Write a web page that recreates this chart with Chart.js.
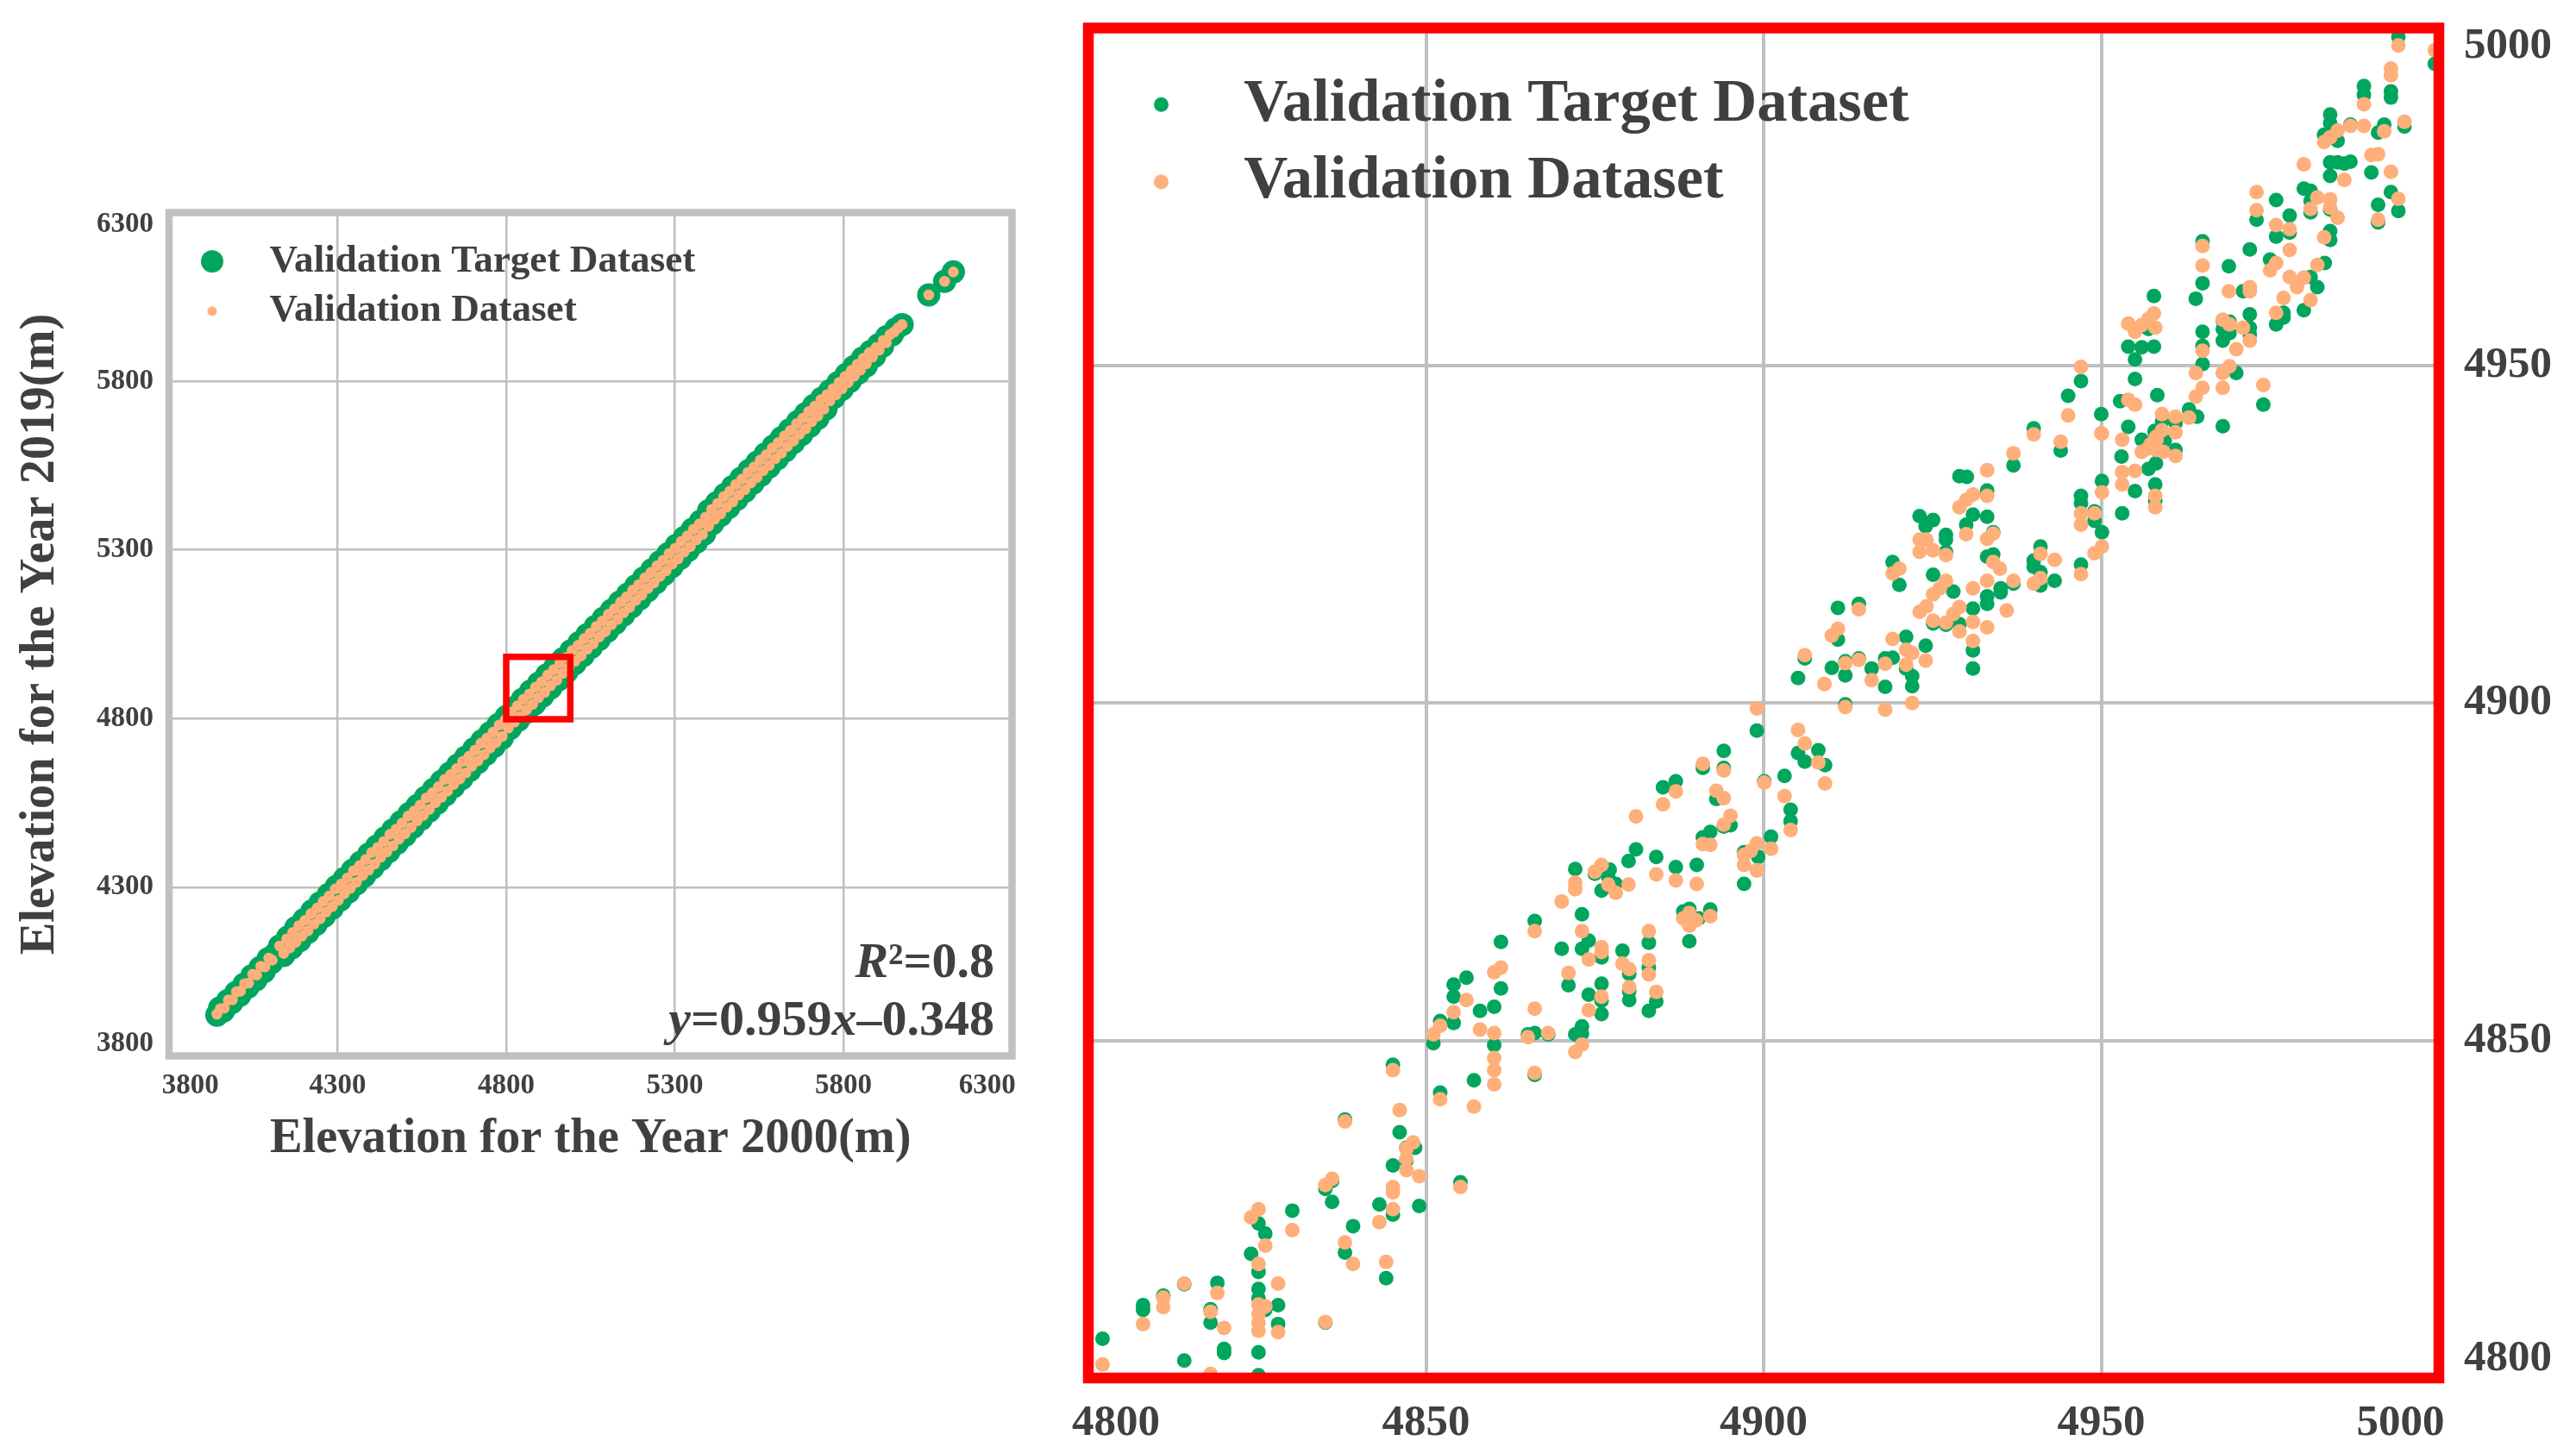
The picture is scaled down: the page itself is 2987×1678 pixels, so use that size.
<!DOCTYPE html>
<html>
<head>
<meta charset="utf-8">
<title>Elevation validation</title>
<script src="https://cdn.jsdelivr.net/npm/chart.js@4/dist/chart.umd.js"></script>
<style>
html,body{margin:0;padding:0;background:#fff;width:2987px;height:1678px;overflow:hidden}
canvas{position:absolute;top:0;display:block}
#full{left:0}
#zoom{left:1240px}
</style>
</head>
<body>
<canvas id="full" width="1240" height="1678"></canvas>
<canvas id="zoom" width="1747" height="1678"></canvas>
<script>
const targetLabel = 'Validation Target Dataset';
const predictedLabel = 'Validation Dataset';
const fullTicks = [3800,4300,4800,5300,5800,6300];
const zoomTicks = [4800,4850,4900,4950,5000];
const xTitleFull = 'Elevation for the Year 2000(m)';
const yTitleFull = 'Elevation for the Year 2019(m)';
const insetX = [4800,4990];
const insetY = [4798,4983];

const fullTarget = [[3942,3921],[3950,3942],[3962,3934],[3974,3964],[3986,3958],[3998,3988],[4010,3980],[4022,4012],[4034,4004],[4046,4038],[4058,4026],[4070,4062],[4082,4050],[4094,4088],[4104,4076],[4116,4104],[4128,4126],[4140,4098],[4152,4152],[4164,4120],[4176,4180],[4188,4142],[4200,4204],[4212,4166],[4224,4230],[4236,4190],[4248,4254],[4260,4214],[4272,4278],[4284,4238],[4296,4302],[4308,4262],[4320,4326],[4332,4286],[4344,4350],[4356,4310],[4368,4374],[4380,4334],[4392,4398],[4404,4358],[4416,4422],[4428,4382],[4440,4446],[4452,4406],[4464,4470],[4476,4430],[4488,4494],[4500,4454],[4512,4518],[4524,4478],[4536,4542],[4548,4502],[4560,4566],[4572,4526],[4584,4590],[4596,4550],[4608,4614],[4620,4574],[4632,4638],[4644,4598],[4656,4662],[4668,4622],[4680,4686],[4692,4646],[4704,4710],[4716,4670],[4728,4734],[4740,4694],[4752,4758],[4764,4718],[4776,4782],[4788,4742],[4800,4806],[4812,4771],[4824,4833],[4836,4795],[4848,4857],[4860,4819],[4872,4881],[4884,4843],[4896,4905],[4908,4867],[4920,4929],[4932,4891],[4944,4953],[4956,4915],[4968,4977],[4980,4939],[4992,5001],[5004,4963],[5016,5025],[5028,4987],[5040,5049],[5052,5011],[5064,5073],[5076,5035],[5088,5097],[5100,5059],[5112,5121],[5124,5083],[5136,5145],[5148,5107],[5160,5169],[5172,5131],[5184,5193],[5196,5155],[5208,5217],[5220,5179],[5232,5241],[5244,5203],[5256,5265],[5268,5227],[5280,5289],[5292,5251],[5304,5313],[5316,5275],[5328,5337],[5340,5299],[5352,5361],[5364,5323],[5376,5385],[5388,5347],[5400,5416],[5412,5378],[5424,5440],[5436,5402],[5448,5464],[5460,5426],[5472,5488],[5484,5450],[5496,5512],[5508,5474],[5520,5536],[5532,5498],[5544,5560],[5556,5522],[5568,5584],[5580,5546],[5592,5608],[5604,5570],[5616,5632],[5628,5594],[5640,5656],[5652,5618],[5664,5680],[5676,5642],[5688,5704],[5700,5666],[5712,5728],[5724,5690],[5736,5750],[5748,5718],[5760,5772],[5772,5752],[5784,5796],[5796,5776],[5808,5820],[5820,5800],[5832,5844],[5844,5824],[5856,5868],[5868,5846],[5880,5888],[5892,5874],[5904,5908],[5916,5904],[5928,5932],[5945,5938],[5955,5955],[5974,5968],[6053,6056],[6100,6096],[6126,6124]];

const fullPredicted = [[3942,3924],[3952,3940],[3964,3942],[3976,3966],[3988,3966],[4000,3990],[4012,3992],[4024,4014],[4036,4016],[4048,4042],[4060,4040],[4072,4066],[4084,4064],[4096,4090],[4106,4084],[4128,4126],[4140,4104],[4149,4147],[4158,4120],[4167,4166],[4176,4137],[4185,4186],[4194,4155],[4203,4202],[4212,4171],[4221,4222],[4230,4191],[4239,4238],[4248,4207],[4257,4258],[4266,4227],[4275,4274],[4284,4243],[4293,4295],[4302,4261],[4311,4310],[4320,4281],[4329,4328],[4338,4297],[4347,4349],[4356,4315],[4365,4364],[4374,4335],[4383,4382],[4392,4351],[4401,4403],[4410,4369],[4419,4418],[4428,4389],[4437,4436],[4446,4405],[4455,4457],[4464,4423],[4473,4472],[4482,4443],[4491,4490],[4500,4459],[4509,4511],[4518,4477],[4527,4526],[4536,4497],[4545,4544],[4554,4513],[4563,4565],[4572,4531],[4581,4580],[4590,4551],[4599,4598],[4608,4567],[4617,4619],[4626,4585],[4635,4634],[4644,4605],[4653,4652],[4662,4621],[4671,4673],[4680,4639],[4689,4688],[4698,4659],[4707,4706],[4716,4675],[4725,4727],[4734,4693],[4743,4742],[4752,4713],[4761,4760],[4770,4729],[4779,4781],[4788,4747],[4797,4796],[4806,4772],[4815,4820],[4824,4790],[4833,4838],[4842,4806],[4851,4857],[4860,4826],[4869,4873],[4878,4842],[4887,4893],[4896,4862],[4905,4909],[4914,4878],[4923,4929],[4932,4898],[4941,4945],[4950,4914],[4959,4965],[4968,4934],[4977,4981],[4986,4950],[4995,5001],[5004,4970],[5013,5017],[5022,4986],[5031,5037],[5040,5006],[5049,5053],[5058,5022],[5067,5073],[5076,5042],[5085,5089],[5094,5058],[5103,5109],[5112,5078],[5121,5125],[5130,5094],[5139,5145],[5148,5114],[5157,5161],[5166,5130],[5175,5181],[5184,5150],[5193,5197],[5202,5166],[5211,5217],[5220,5186],[5229,5233],[5238,5202],[5247,5253],[5256,5222],[5265,5269],[5274,5238],[5283,5289],[5292,5258],[5301,5305],[5310,5274],[5319,5325],[5328,5294],[5337,5341],[5346,5310],[5355,5361],[5364,5330],[5373,5377],[5382,5346],[5391,5397],[5400,5370],[5409,5420],[5418,5391],[5427,5438],[5436,5407],[5445,5458],[5454,5427],[5463,5474],[5472,5443],[5481,5494],[5490,5463],[5499,5510],[5508,5479],[5517,5530],[5526,5499],[5535,5546],[5544,5515],[5553,5566],[5562,5535],[5571,5582],[5580,5551],[5589,5602],[5598,5571],[5607,5618],[5616,5587],[5625,5638],[5634,5607],[5643,5654],[5652,5623],[5661,5674],[5670,5643],[5679,5690],[5688,5659],[5697,5710],[5706,5680],[5715,5726],[5724,5697],[5733,5745],[5742,5717],[5751,5760],[5760,5742],[5769,5778],[5778,5760],[5787,5796],[5796,5778],[5805,5814],[5814,5796],[5823,5832],[5832,5815],[5841,5850],[5850,5833],[5859,5868],[5868,5852],[5877,5885],[5886,5872],[5897,5900],[5906,5892],[5918,5921],[5927,5914],[5938,5938],[5950,5946],[5962,5958],[5974,5968],[6053,6056],[6100,6096],[6126,6124]];

const zoomTarget = [[4802.1,4805.8],[4808.1,4810.8],[4808.1,4810.1],[4811.1,4812.2],[4814.2,4813.9],[4814.2,4802.6],[4810.1,4799.6],[4819.1,4814.1],[4818.1,4810.2],[4818.1,4808.2],[4820.1,4804.3],[4820.1,4803.7],[4825.2,4803.8],[4825.2,4800.4],[4825.2,4813.2],[4825.2,4811.8],[4825.2,4815.7],[4826.2,4810.1],[4824.1,4818.4],[4825.2,4822.9],[4826.2,4821.4],[4828.1,4810.8],[4828.1,4808],[4830.2,4824.8],[4835.1,4808.2],[4835.1,4828],[4836.1,4829.2],[4836.1,4826.1],[4838,4838.3],[4838,4818.6],[4839.2,4822.5],[4843.1,4825.7],[4844.1,4814.8],[4845.1,4846.4],[4846.1,4836.4],[4845.1,4831.5],[4845.1,4824.2],[4847.1,4834.1],[4847.1,4832.2],[4848.4,4834.1],[4849,4825.5],[4855.1,4829],[4851.1,4849.6],[4852.1,4852.9],[4854.1,4852.6],[4854.1,4858.3],[4854.1,4856.5],[4856,4859.3],[4858,4854.4],[4860.1,4855],[4860.1,4849.3],[4861.1,4864.6],[4861.1,4857.7],[4852.1,4842.3],[4857.1,4844.1],[4866.1,4844.9],[4865.1,4850.9],[4866.1,4851.1],[4868.1,4850.9],[4866.1,4867.7],[4870.1,4863.6],[4872.1,4850.9],[4873.1,4852.1],[4873.1,4851],[4871.1,4858.2],[4873.1,4868.7],[4873.1,4863.6],[4874.1,4864.8],[4874.1,4856.8],[4876,4858.4],[4876,4855.9],[4876,4853.9],[4876,4862.3],[4879.1,4863.3],[4880.1,4859.9],[4880.1,4857.3],[4880.1,4856],[4883,4864.5],[4883,4860.8],[4883,4854.4],[4884.1,4855.8],[4889,4864.7],[4888.1,4869.1],[4889,4869.5],[4890.4,4868.1],[4892.1,4869.4],[4872.1,4875.4],[4875,4874.7],[4877.2,4875.3],[4877,4874.2],[4876,4872.2],[4878.1,4873.2],[4887,4875.7],[4890.1,4876],[4897.1,4873.2],[4899,4895.9],[4894.1,4892.9],[4894.1,4890.4],[4891,4890.4],[4887,4888.4],[4885.1,4887.5],[4881.1,4878.3],[4880,4876.6],[4893,4885.8],[4900.1,4888.4],[4895.1,4881.9],[4894.1,4881.7],[4891,4880.1],[4892.1,4880.9],[4884.1,4877.2],[4897.1,4877.9],[4899.2,4877.2],[4901.1,4880.2],[4903.1,4889.2],[4904,4884.2],[4904,4882.5],[4905.1,4892.6],[4906.1,4891.3],[4908.1,4893],[4909.1,4890.8],[4905.1,4903.7],[4906.1,4906.6],[4910.1,4905.2],[4912.1,4906.2],[4912.1,4904.1],[4914.1,4906.6],[4912.1,4899.8],[4918,4902.4],[4922,4902.5],[4922,4904],[4921.1,4905.1],[4916,4905.1],[4918,4906.6],[4919.1,4906.7],[4921.1,4909.8],[4924,4908.5],[4911,4909.4],[4911,4914.1],[4914.1,4914.7],[4920.1,4917.5],[4919.1,4920.9],[4925.1,4919],[4923.1,4927.7],[4925.1,4927.1],[4924,4926.2],[4927,4924.9],[4927,4924.2],[4927,4922.4],[4928.1,4916.5],[4925.1,4911.8],[4927,4911.6],[4929,4911.7],[4931,4914],[4931,4907.8],[4931,4905.1],[4933.1,4915.8],[4933.1,4914.7],[4935.1,4917],[4935.1,4916.4],[4937,4917.7],[4940,4921.1],[4940,4920.2],[4941,4919.4],[4941,4917.4],[4941,4923.2],[4943.1,4918.1],[4933.1,4921.7],[4934,4922],[4947,4920.5],[4950.1,4925.3],[4933.1,4927.6],[4934,4925.3],[4930,4926.4],[4931,4927.9],[4933.1,4931.5],[4929,4933.6],[4930.1,4933.5],[4937,4935.2],[4944,4937.4],[4947,4930.7],[4947,4929.6],[4949,4927],[4949,4928.4],[4950.1,4932.9],[4953,4936.5],[4953.1,4928.1],[4955,4931.4],[4957,4934.7],[4958,4932.4],[4956,4939],[4957.9,4940.3],[4954,4940.9],[4940,4940.7],[4947,4947.7],[4945.1,4945.5],[4950,4942.8],[4952.8,4944.7],[4955,4948],[4955,4950.9],[4954,4952.8],[4956,4952.7],[4957.8,4952.8],[4957.8,4960.3],[4957,4955.4],[4958.3,4945.6],[4994,4998.7],[4999.4,4994.7],[4992.9,4990.6],[4992.9,4989.7],[4988.9,4991.4],[4988.9,4990.1],[4986.9,4985.7],[4983.9,4987.2],[4983.9,4985.9],[4983,4984.2],[4985,4983.3],[4991.9,4985.7],[4991,4984.5],[4994.9,4985.4],[4990,4978.6],[4983.9,4980.1],[4985,4980.1],[4986,4979.9],[4986.9,4980.2],[4983.9,4978.1],[4980,4976.2],[4981,4975.9],[4981,4974.4],[4981,4972.7],[4983.9,4973.1],[4992.9,4975.7],[4994,4972.9],[4991,4973.8],[4991,4971.2],[4973,4971.6],[4975.9,4974.5],[4977.9,4972.2],[4977.9,4969.7],[4975.9,4969.1],[4983.9,4969.9],[4983.9,4968.6],[4983.1,4965.2],[4972,4967.2],[4965,4968.4],[4965,4962.2],[4964,4959.9],[4968.9,4964.7],[4971,4961],[4975,4965.7],[4981,4963.1],[4982,4961.6],[4980,4958.2],[4977,4957.8],[4977,4957.1],[4975.9,4956.1],[4965,4955],[4965,4952.9],[4965,4950.2],[4970,4948.9],[4974,4944.2],[4968,4956.7],[4969,4956.5],[4968,4955.4],[4969,4954.8],[4968,4953.7],[4972,4957.6],[4972,4955.6],[4972,4954.6],[4963,4943.5],[4964.2,4942.4],[4968,4941],[4959,4941.7],[4961,4941.5],[4958,4940],[4959.4,4938.9],[4961,4937.5],[4958.1,4935.5],[4958,4930]];

const zoomPredicted = [[4802.1,4802],[4808.1,4808],[4811.1,4811.9],[4811.1,4810.5],[4814.2,4814],[4819.1,4812.6],[4818.1,4809.8],[4820.1,4807.4],[4818.1,4800.6],[4820.1,4799],[4825.2,4816.9],[4825.2,4810.9],[4826.2,4810.6],[4825.2,4809.5],[4825.2,4808.2],[4825.2,4807],[4826.2,4819.6],[4824.1,4823.8],[4825.2,4825],[4828.1,4814],[4828.1,4806.8],[4830.2,4821.9],[4835.1,4808.3],[4835.1,4828.6],[4836.1,4829.5],[4838,4838],[4838,4820.1],[4839.2,4816.9],[4843.1,4823.1],[4844.1,4817.2],[4845.1,4845.6],[4846.1,4839.7],[4845.1,4828.3],[4845.1,4827.5],[4845.1,4825],[4847.1,4834],[4847.1,4832.5],[4847.1,4830.8],[4848.1,4834.9],[4849,4829.9],[4855.1,4828.3],[4851.1,4850.9],[4852.1,4852.2],[4854.1,4854.2],[4856,4856],[4858,4851.6],[4860.1,4851.1],[4860.1,4847.4],[4860.1,4845.6],[4860.1,4843.5],[4860.1,4860.1],[4861.1,4860.8],[4852.1,4841.3],[4857.1,4840.2],[4866.1,4845.2],[4865.1,4850.5],[4868.1,4851.1],[4866.1,4854.7],[4866.1,4866.2],[4870.1,4870.6],[4872.1,4848.3],[4873.1,4849.4],[4871.1,4860],[4873.1,4866.2],[4874.1,4862],[4874.1,4854.5],[4876,4856.5],[4876,4863.8],[4876,4863.1],[4879.1,4861.4],[4880.1,4860.6],[4880.1,4857.9],[4883,4866.2],[4883,4861.9],[4883,4859.8],[4884.1,4857.2],[4888.1,4868.1],[4889,4868.9],[4889,4867],[4890,4867.8],[4892.1,4868.4],[4872.1,4873.4],[4872.1,4872.4],[4875,4875],[4876,4876],[4877,4873.1],[4878.1,4871.9],[4880,4873.1],[4884.1,4874.6],[4887,4873.7],[4890.1,4873.2],[4897.1,4876],[4897.1,4877.5],[4898.1,4878.1],[4899,4879.2],[4899,4875.2],[4901.1,4878.4],[4899,4899.2],[4894.1,4890],[4891,4891],[4887,4886.9],[4885.1,4885],[4881.1,4883.2],[4893,4887],[4894.1,4885.9],[4900.1,4888.2],[4895.1,4883.3],[4894.1,4882],[4891,4879.1],[4892.1,4879],[4903.1,4886.2],[4904,4881.2],[4905.1,4896],[4906.1,4894],[4908.1,4891.2],[4909.1,4888.1],[4906.1,4907.1],[4909,4902.8],[4912.1,4905.9],[4914.1,4906.4],[4912.1,4899.4],[4918,4899],[4922,4900],[4916,4903.4],[4918,4905.8],[4919.1,4909.5],[4921.1,4907.9],[4922,4907.4],[4921.1,4905.7],[4924,4906.3],[4910.1,4910],[4911,4911],[4914.1,4913.9],[4919.1,4919.2],[4920.1,4919.9],[4923.1,4924.2],[4924.1,4924.2],[4923.1,4922.4],[4925.1,4922.6],[4927,4921.9],[4927,4918.1],[4926.1,4917],[4925.1,4916.1],[4924.1,4914.3],[4923.1,4913.5],[4925.1,4912.2],[4927,4911.9],[4928.1,4913.2],[4929,4914.2],[4929,4910.6],[4931,4912],[4931,4909.2],[4933.1,4911.2],[4931,4917],[4933.1,4918.1],[4936,4913.7],[4937,4918.1],[4940,4917.7],[4941,4918.5],[4941,4922.1],[4943.1,4921.2],[4934,4920.9],[4935,4919.9],[4947,4919.1],[4949,4922.2],[4950.1,4923.2],[4933.1,4924.3],[4934,4925.1],[4930,4925],[4929,4929],[4930,4930.1],[4931,4930.9],[4933.1,4930.7],[4933.1,4934.5],[4937,4937],[4940,4939.8],[4944,4938.7],[4947,4928.1],[4947,4926.4],[4949,4928.1],[4950.1,4931.2],[4950.1,4939.9],[4953.1,4939],[4953.1,4934.2],[4953.1,4932.4],[4955,4934.4],[4958,4930.7],[4958,4929],[4956,4937.2],[4957.3,4938.3],[4958.1,4939.4],[4947,4949.8],[4945.1,4942.6],[4950,4940],[4954,4944.9],[4955,4944.2],[4954,4956.2],[4955,4955],[4956,4956],[4957,4956.9],[4957.8,4957.7],[4958,4955.6],[4994,4997.4],[4999.4,4996.7],[4992.9,4994],[4992.9,4993],[4988.9,4988.7],[4988.9,4985.5],[4986.9,4985.5],[4985,4984.8],[4983.9,4983.8],[4983,4983.1],[4991.9,4984.7],[4994.9,4986.1],[4990,4981.2],[4991,4981.3],[4992.9,4978.7],[4986,4977.5],[4980,4979.8],[4982,4974.9],[4981,4973.2],[4983.9,4974.6],[4983.9,4973.4],[4985,4971.9],[4994,4974.7],[4991,4971.6],[4973,4975.7],[4973,4973],[4975.9,4970.8],[4977.9,4970.2],[4977.9,4967.1],[4983,4969],[4982,4964.9],[4965,4967.7],[4965,4964.8],[4968.9,4961],[4972,4961.6],[4972,4961],[4975.9,4965.2],[4975,4964.1],[4977.9,4963.1],[4980,4963],[4979,4961.6],[4977,4960],[4981,4959.7],[4975.9,4957.8],[4965,4952.2],[4964,4948.9],[4965,4946.7],[4964,4945.4],[4968,4948.9],[4969,4949.9],[4970,4952.4],[4968,4946.7],[4974,4947.1],[4968,4956.8],[4969,4956.1],[4971,4955.6],[4972,4953.7],[4959,4942.8],[4961,4942.4],[4963,4942.3],[4961,4940.1],[4959,4940.4],[4957.3,4938.3],[4958.2,4939],[4956.9,4937.7],[4958.2,4937.5],[4959.2,4937.2],[4961,4936.6]];

const GREEN = '#00A65D';
const ORANGE = '#FFAF7A';
const INK = '#404040';
const SERIF = '"Liberation Serif","Times New Roman",serif';
const NBSP = '\u00A0';

const toPoints = list => list.map(p => ({x:p[0], y:p[1]}));

function dot(radius, colour) {
  const c = document.createElement('canvas');
  c.width = c.height = Math.ceil(radius * 2) + 2;
  const g = c.getContext('2d');
  g.fillStyle = colour;
  g.beginPath();
  g.arc(c.width/2, c.height/2, radius, 0, Math.PI*2);
  g.fill();
  return c;
}

const decor = {
  id: 'decor',
  beforeDraw(chart, args, o) {
    chart.legend.left = o.legendLeft;
    chart.legend.top = o.legendTop;
  },
  afterDatasetsDraw(chart, args, o) {
    const a = chart.chartArea, ctx = chart.ctx;
    ctx.save();
    ctx.strokeStyle = o.frameColor;
    ctx.lineWidth = o.frameWidth;
    ctx.strokeRect(a.left, a.top, a.right - a.left, a.bottom - a.top);
    if (o.insetX) {
      const sx = chart.scales.x, sy = chart.scales.y;
      const x0 = sx.getPixelForValue(o.insetX[0]), x1 = sx.getPixelForValue(o.insetX[1]);
      const y0 = sy.getPixelForValue(o.insetY[0]), y1 = sy.getPixelForValue(o.insetY[1]);
      ctx.strokeStyle = '#ff0000';
      ctx.lineWidth = 7.5;
      ctx.strokeRect(x0, y1, x1 - x0, y0 - y1);
    }
    ctx.restore();
  },
  afterDraw(chart, args, o) {
    if (!o.notes) return;
    const ctx = chart.ctx;
    ctx.save();
    ctx.fillStyle = INK;
    ctx.textBaseline = 'alphabetic';
    o.notes.forEach(n => {
      let w = 0;
      n.parts.forEach(p => { ctx.font = (p[1] ? 'italic ' : '') + 'bold ' + n.size + 'px ' + SERIF; w += ctx.measureText(p[0]).width; });
      let x = n.right - w;
      n.parts.forEach(p => {
        ctx.font = (p[1] ? 'italic ' : '') + 'bold ' + n.size + 'px ' + SERIF;
        ctx.fillText(p[0], x, n.baseline);
        x += ctx.measureText(p[0]).width;
      });
    });
    ctx.restore();
  }
};

function build(id, s) {
  const markers = [dot(s.legendR[0], GREEN), dot(s.legendR[1], ORANGE)];
  const first = s.ticks[0], last = s.ticks[s.ticks.length - 1];
  const axisBase = {
    type: 'linear', min: first, max: last,
    afterBuildTicks: sc => { sc.ticks = s.ticks.map(v => ({value:v})); },
    grid: {color:'#c0c0c0', lineWidth:s.gridWidth, drawTicks:false},
    border: {display:false}
  };
  return new Chart(document.getElementById(id), {
    type: 'scatter',
    data: {datasets: [
      {label:targetLabel, data:toPoints(s.target), backgroundColor:GREEN, borderWidth:0, pointRadius:s.r[0], pointHoverRadius:s.r[0], order:2},
      {label:predictedLabel, data:toPoints(s.predicted), backgroundColor:ORANGE, borderWidth:0, pointRadius:s.r[1], pointHoverRadius:s.r[1], order:1}
    ]},
    plugins: [decor],
    options: {
      responsive:false, animation:false, devicePixelRatio:1,
      layout:{padding:s.padding},
      scales:{
        x:Object.assign({}, axisBase, {
          position:'bottom',
          afterFit: sc => { sc.height = s.xHeight; sc.paddingLeft = 0; sc.paddingRight = 0; },
          title: s.xTitle ? {display:true, text:s.xTitle, color:INK, font:{family:SERIF, weight:'bold', size:56.5}, padding:{top:0,bottom:5}} : {display:false},
          ticks:{
            autoSkip:false, maxRotation:0, minRotation:0, padding:s.xPad, color:INK,
            font:{family:SERIF, weight:'bold', size:s.tickSize},
            callback: v => v === first ? NBSP.repeat(s.endShift[0]) + v : v === last ? v + NBSP.repeat(s.endShift[1]) : String(v)
          }
        }),
        y:Object.assign({}, axisBase, {
          position:s.yPos,
          afterFit: sc => { sc.width = s.yWidth; sc.paddingTop = 0; sc.paddingBottom = 0; },
          title: s.yTitle ? {display:true, text:s.yTitle, color:INK, font:{family:SERIF, weight:'bold', size:56.5}, padding:{top:14,bottom:0}} : {display:false},
          ticks:{
            autoSkip:false, padding:s.yPad, color:INK,
            font:{family:SERIF, weight:'bold', size:s.tickSize, lineHeight:0.85},
            callback: v => v === last ? ['', String(v)] : v === first ? [String(v), ''] : String(v)
          }
        })
      },
      plugins:{
        tooltip:{enabled:false},
        title:{display:false},
        legend:{
          display:true, position:'chartArea', align:'start',
          labels:{
            usePointStyle:true, pointStyleWidth:s.legendBox, padding:s.legendPad, color:INK,
            font:{family:SERIF, weight:'bold', size:s.legendSize},
            generateLabels: c => c.data.datasets.map((d,i) => ({
              text:d.label, datasetIndex:i, pointStyle:markers[i], fillStyle:d.backgroundColor,
              strokeStyle:'rgba(0,0,0,0)', lineWidth:0, hidden:false, fontColor:INK
            }))
          }
        },
        decor:Object.assign({legendLeft:s.legendLeft, legendTop:s.legendTop, frameColor:s.frameColor, frameWidth:s.frameWidth}, s.extra)
      }
    }
  });
}

build('full', {
  target:fullTarget, predicted:fullPredicted, ticks:fullTicks, r:[13.5,6.3],
  padding:{left:0, top:246.5, right:66.5, bottom:318},
  xHeight:135.5, yWidth:196, yPos:'left', xPad:15, yPad:18, tickSize:33, gridWidth:2.5,
  endShift:[6,7],
  xTitle:xTitleFull, yTitle:yTitleFull,
  legendR:[13,5.5], legendBox:88, legendPad:12.5, legendSize:45.2, legendLeft:189.5, legendTop:268,
  frameColor:'#c0c0c0', frameWidth:8.5,
  extra:{insetX:insetX, insetY:insetY, notes:[
    {right:1153, baseline:1133, size:58, parts:[['R',true],['\u00B2',false],['=0.8',false]]},
    {right:1153, baseline:1200, size:58, parts:[['y',true],['=0.959',false],['x',true],['\u20130.348',false]]}
  ]}
});

build('zoom', {
  target:zoomTarget, predicted:zoomPredicted, ticks:zoomTicks, r:[8.5,8.5],
  padding:{left:22, top:32.5, right:0, bottom:0},
  xHeight:80, yWidth:159, yPos:'right', xPad:22, yPad:29, tickSize:51, gridWidth:4,
  endShift:[5,7],
  legendR:[8.5,8.5], legendBox:121, legendPad:19, legendSize:70.6, legendLeft:27, legendTop:67,
  frameColor:'#ff0000', frameWidth:12.5,
  extra:{}
});
</script>
</body>
</html>
